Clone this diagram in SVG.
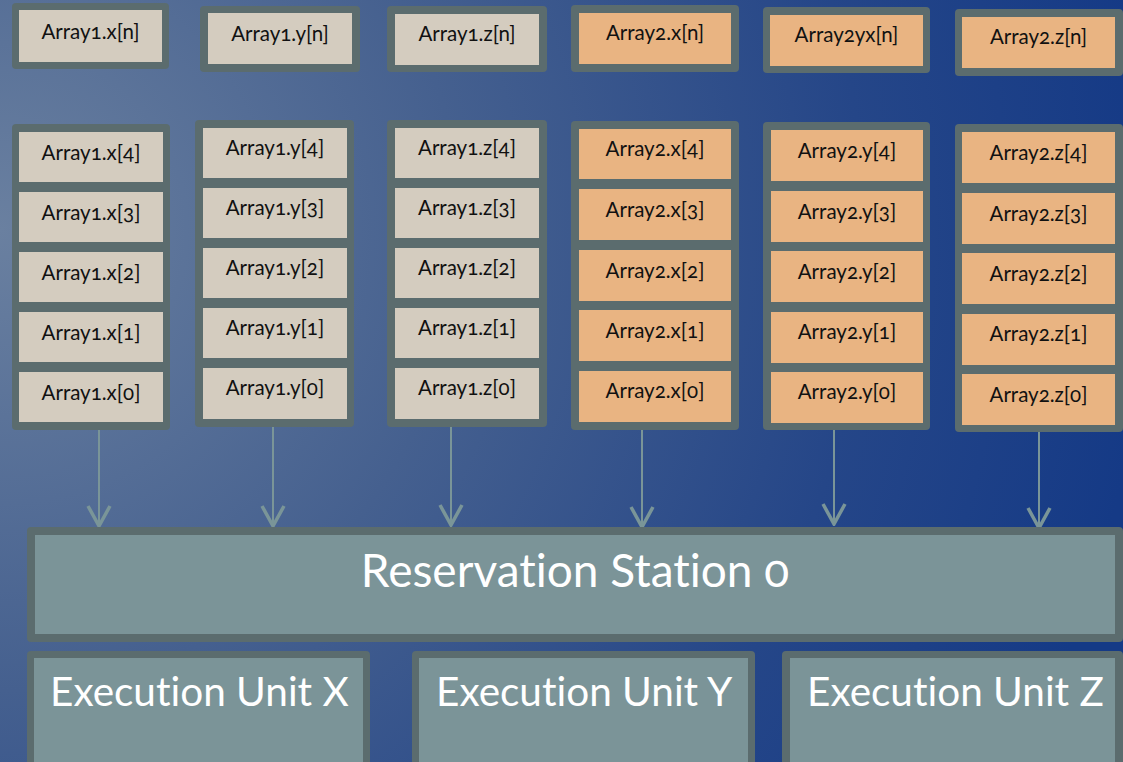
<svg xmlns="http://www.w3.org/2000/svg" width="1123" height="762" viewBox="0 0 1123 762">
<defs>
<radialGradient id="bg" cx="0" cy="230" r="1150" gradientUnits="userSpaceOnUse">
<stop offset="0" stop-color="#6a80a0"/>
<stop offset="0.4" stop-color="#45608f"/>
<stop offset="0.75" stop-color="#254688"/>
<stop offset="1" stop-color="#153a86"/>
</radialGradient>
<marker id="v" viewBox="-23 -13 25 26" refX="0" refY="0" markerWidth="25" markerHeight="26" markerUnits="userSpaceOnUse" orient="auto">
<path d="M-20,-11 L0,0 L-20,11" fill="none" stroke="#7a9598" stroke-width="3.5"/>
</marker>
<style>
.frame{fill:#5b6c6e}
.c1{fill:#d4ccbf}
.c2{fill:#e9b482}
.unit{fill:#7b9498}
.t{font-family:Lato,"Open Sans",sans-serif;font-size:20.5px;fill:#111;text-anchor:middle;font-variant-numeric:oldstyle-nums;font-variant-ligatures:none}
.big{font-family:Lato,"Open Sans",sans-serif;fill:#fff;font-variant-numeric:oldstyle-nums;font-variant-ligatures:none}
.arrow{stroke:#7a9598;stroke-width:2;fill:none;marker-end:url(#v)}
</style>
</defs>
<rect width="1123" height="762" fill="url(#bg)"/>

<!-- top row -->
<g id="a1xn"><rect class="frame" x="12" y="3" width="157" height="66" rx="4"/><rect class="c1" x="19" y="10" width="143" height="52"/><text class="t" x="90.5" y="39">Array1.x[n]</text></g>
<g id="a1yn"><rect class="frame" x="200" y="6" width="160" height="66" rx="4"/><rect class="c1" x="208" y="13" width="144" height="51"/><text class="t" x="280" y="41">Array1.y[n]</text></g>
<g id="a1zn"><rect class="frame" x="387" y="6" width="160" height="66" rx="4"/><rect class="c1" x="395" y="14" width="144" height="51"/><text class="t" x="467" y="41">Array1.z[n]</text></g>
<g id="a2xn"><rect class="frame" x="571" y="5" width="168" height="67" rx="4"/><rect class="c2" x="579" y="13" width="152" height="51"/><text class="t" x="655" y="40">Array2.x[n]</text></g>
<g id="a2yn"><rect class="frame" x="763" y="7" width="167" height="66" rx="4"/><rect class="c2" x="770" y="15" width="153" height="51"/><text class="t" x="846.5" y="42">Array2yx[n]</text></g>
<g id="a2zn"><rect class="frame" x="955" y="9" width="168" height="67" rx="4"/><rect class="c2" x="962" y="17" width="153" height="51"/><text class="t" x="1038.5" y="44">Array2.z[n]</text></g>

<!-- column Array1.x -->
<g id="a1x">
<rect class="frame" x="12" y="124" width="158" height="306" rx="4"/>
<rect class="c1" x="19" y="132" width="144" height="50"/><text class="t" x="91" y="160">Array1.x[4]</text>
<rect class="c1" x="19" y="192" width="144" height="50"/><text class="t" x="91" y="220">Array1.x[3]</text>
<rect class="c1" x="19" y="252" width="144" height="50"/><text class="t" x="91" y="280">Array1.x[2]</text>
<rect class="c1" x="19" y="312" width="144" height="50"/><text class="t" x="91" y="340">Array1.x[1]</text>
<rect class="c1" x="19" y="372" width="144" height="50"/><text class="t" x="91" y="400">Array1.x[0]</text>
</g>
<!-- column Array1.y -->
<g id="a1y">
<rect class="frame" x="195" y="120" width="159" height="307" rx="4"/>
<rect class="c1" x="203" y="128" width="144" height="50"/><text class="t" x="275" y="155">Array1.y[4]</text>
<rect class="c1" x="203" y="188" width="144" height="50"/><text class="t" x="275" y="215">Array1.y[3]</text>
<rect class="c1" x="203" y="248" width="144" height="50"/><text class="t" x="275" y="275">Array1.y[2]</text>
<rect class="c1" x="203" y="308" width="144" height="50"/><text class="t" x="275" y="335">Array1.y[1]</text>
<rect class="c1" x="203" y="368" width="144" height="51"/><text class="t" x="275" y="395">Array1.y[0]</text>
</g>
<!-- column Array1.z -->
<g id="a1z">
<rect class="frame" x="387" y="120" width="160" height="307" rx="4"/>
<rect class="c1" x="395" y="128" width="144" height="50"/><text class="t" x="467" y="155">Array1.z[4]</text>
<rect class="c1" x="395" y="188" width="144" height="50"/><text class="t" x="467" y="215">Array1.z[3]</text>
<rect class="c1" x="395" y="248" width="144" height="50"/><text class="t" x="467" y="275">Array1.z[2]</text>
<rect class="c1" x="395" y="308" width="144" height="50"/><text class="t" x="467" y="335">Array1.z[1]</text>
<rect class="c1" x="395" y="368" width="144" height="51"/><text class="t" x="467" y="395">Array1.z[0]</text>
</g>
<!-- column Array2.x -->
<g id="a2x">
<rect class="frame" x="571" y="121" width="168" height="309" rx="4"/>
<rect class="c2" x="579" y="129" width="152" height="50"/><text class="t" x="655" y="156">Array2.x[4]</text>
<rect class="c2" x="579" y="189" width="152" height="51"/><text class="t" x="655" y="217">Array2.x[3]</text>
<rect class="c2" x="579" y="250" width="152" height="51"/><text class="t" x="655" y="278">Array2.x[2]</text>
<rect class="c2" x="579" y="310" width="152" height="51"/><text class="t" x="655" y="338">Array2.x[1]</text>
<rect class="c2" x="579" y="371" width="152" height="51"/><text class="t" x="655" y="398">Array2.x[0]</text>
</g>
<!-- column Array2.y -->
<g id="a2y">
<rect class="frame" x="763" y="122" width="167" height="308" rx="4"/>
<rect class="c2" x="771" y="130" width="152" height="51"/><text class="t" x="847" y="158">Array2.y[4]</text>
<rect class="c2" x="771" y="191" width="152" height="51"/><text class="t" x="847" y="219">Array2.y[3]</text>
<rect class="c2" x="771" y="251" width="152" height="51"/><text class="t" x="847" y="279">Array2.y[2]</text>
<rect class="c2" x="771" y="312" width="152" height="51"/><text class="t" x="847" y="339">Array2.y[1]</text>
<rect class="c2" x="771" y="372" width="152" height="51"/><text class="t" x="847" y="399">Array2.y[0]</text>
</g>
<!-- column Array2.z -->
<g id="a2z">
<rect class="frame" x="955" y="124" width="168" height="308" rx="4"/>
<rect class="c2" x="962" y="132" width="153" height="51"/><text class="t" x="1038.5" y="160">Array2.z[4]</text>
<rect class="c2" x="962" y="193" width="153" height="51"/><text class="t" x="1038.5" y="221">Array2.z[3]</text>
<rect class="c2" x="962" y="253" width="153" height="51"/><text class="t" x="1038.5" y="281">Array2.z[2]</text>
<rect class="c2" x="962" y="314" width="153" height="51"/><text class="t" x="1038.5" y="341">Array2.z[1]</text>
<rect class="c2" x="962" y="374" width="153" height="51"/><text class="t" x="1038.5" y="402">Array2.z[0]</text>
</g>

<!-- connectors -->
<g id="connectors">
<line class="arrow" x1="99" y1="430" x2="99" y2="526"/>
<line class="arrow" x1="273" y1="427" x2="273" y2="526"/>
<line class="arrow" x1="451" y1="427" x2="451" y2="525"/>
<line class="arrow" x1="642" y1="430" x2="642" y2="527"/>
<line class="arrow" x1="834" y1="430" x2="834" y2="524"/>
<line class="arrow" x1="1039" y1="432" x2="1039" y2="528"/>
</g>

<!-- reservation station -->
<g id="rs">
<rect class="frame" x="27" y="527" width="1096" height="115" rx="4"/>
<rect class="unit" x="35" y="535" width="1080" height="99"/>
<text class="big" x="575" y="587" font-size="46" text-anchor="middle">Reservation Station 0</text>
</g>

<!-- execution units -->
<g id="eux">
<rect class="frame" x="27" y="651" width="343" height="120" rx="4"/>
<rect class="unit" x="34" y="658" width="329" height="110"/>
<text class="big" x="50" y="706" font-size="40.5">Execution Unit X</text>
</g>
<g id="euy">
<rect class="frame" x="412" y="651" width="343" height="120" rx="4"/>
<rect class="unit" x="419" y="658" width="329" height="110"/>
<text class="big" x="436" y="706" font-size="40.5">Execution Unit Y</text>
</g>
<g id="euz">
<rect class="frame" x="782" y="651" width="341" height="120" rx="4"/>
<rect class="unit" x="790" y="658" width="325" height="110"/>
<text class="big" x="807" y="706" font-size="40.5">Execution Unit Z</text>
</g>
</svg>
